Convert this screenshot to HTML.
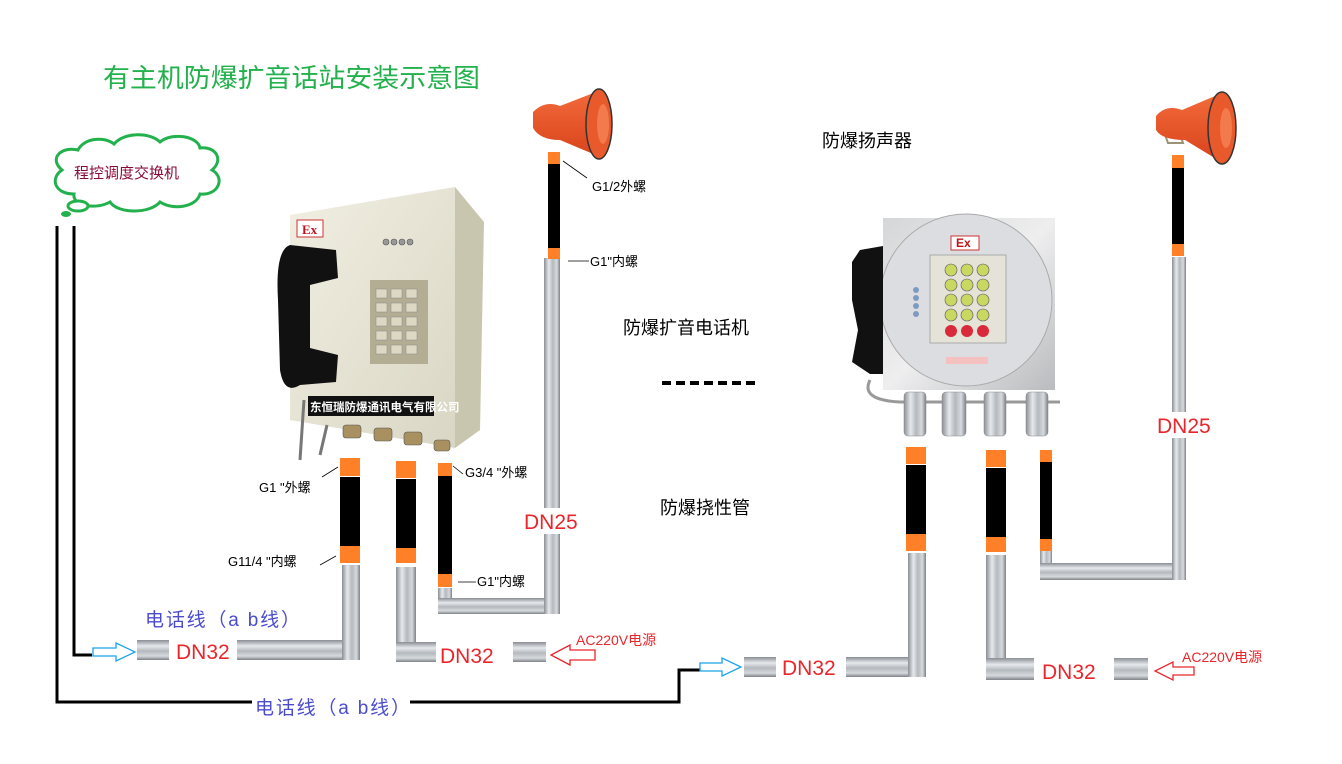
<!DOCTYPE html>
<html><head><meta charset="utf-8"><style>
html,body{margin:0;padding:0;background:#fff;}
svg{display:block;font-family:"Liberation Sans","Noto Sans CJK SC",sans-serif;}
</style></head><body>
<svg width="1342" height="764" viewBox="0 0 1342 764" xmlns="http://www.w3.org/2000/svg">
<defs>
<linearGradient id="pv" x1="0" y1="0" x2="1" y2="0">
<stop offset="0" stop-color="#8a8f95"/><stop offset="0.3" stop-color="#e6e9ec"/><stop offset="0.55" stop-color="#b4b9be"/><stop offset="0.8" stop-color="#d7dadd"/><stop offset="1" stop-color="#7d8288"/></linearGradient>
<linearGradient id="ph" x1="0" y1="0" x2="0" y2="1">
<stop offset="0" stop-color="#8a8f95"/><stop offset="0.3" stop-color="#e6e9ec"/><stop offset="0.55" stop-color="#b4b9be"/><stop offset="0.8" stop-color="#d7dadd"/><stop offset="1" stop-color="#7d8288"/></linearGradient>
<linearGradient id="beige" x1="0" y1="0" x2="1" y2="1">
<stop offset="0" stop-color="#f1efe2"/><stop offset="1" stop-color="#d9d6c4"/></linearGradient>
<linearGradient id="silver" x1="0" y1="0" x2="1" y2="1">
<stop offset="0" stop-color="#d5d6d8"/><stop offset="0.5" stop-color="#eeeeef"/><stop offset="1" stop-color="#b9bbbe"/></linearGradient>
<linearGradient id="horn" x1="0" y1="0" x2="0" y2="1">
<stop offset="0" stop-color="#f26a3a"/><stop offset="1" stop-color="#d9431c"/></linearGradient>
</defs>

<!-- title -->
<text x="103" y="87" font-size="26" fill="#22b14c" textLength="377" lengthAdjust="spacingAndGlyphs">有主机防爆扩音话站安装示意图</text>

<!-- cloud -->
<path d="M62,170 C48,158 62,146 78,150 C84,138 104,136 114,144 C124,132 150,132 160,142 C172,132 198,136 200,148 C216,146 224,160 212,170 C226,178 218,196 200,194 C196,208 172,210 160,202 C150,214 118,214 110,202 C96,210 72,206 74,194 C54,194 50,178 62,170 Z" fill="#fff" stroke="#22b14c" stroke-width="3"/>
<ellipse cx="78" cy="206" rx="10" ry="5" fill="#fff" stroke="#22b14c" stroke-width="3"/>
<ellipse cx="66" cy="214" rx="5" ry="3" fill="#22b14c"/>
<text x="74" y="178" font-size="15" fill="#8b0a3a">程控调度交换机</text>

<!-- wires -->
<polyline points="57,226 57,702 252,702" fill="none" stroke="#000" stroke-width="3"/>
<polyline points="410,702 679,702 679,670 700,670" fill="none" stroke="#000" stroke-width="3"/>
<polyline points="74,226 74,655 92,655" fill="none" stroke="#000" stroke-width="3"/>
<path d="M93,648 L116,648 L116,643 L135,652 L116,661 L116,656 L93,656 Z" fill="#fff" stroke="#1aa3e8" stroke-width="1.3"/>
<path d="M700,663 L722,663 L722,658 L741,667 L722,676 L722,671 L700,671 Z" fill="#fff" stroke="#1aa3e8" stroke-width="1.3"/>
<path d="M595,650 L570,650 L570,645 L551,655 L570,665 L570,660 L595,660 Z" fill="#fff" stroke="#e8262b" stroke-width="1.3"/>
<path d="M1194,667 L1173,667 L1173,662 L1155,671 L1173,680 L1173,675 L1194,675 Z" fill="#fff" stroke="#e8262b" stroke-width="1.3"/>

<text x="145" y="626" font-size="19" fill="#4b4bd0" textLength="155" lengthAdjust="spacing">电话线（a  b线）</text>
<text x="255" y="714" font-size="19" fill="#4b4bd0" textLength="155" lengthAdjust="spacing">电话线（a  b线）</text>
<text x="576" y="645" font-size="14" fill="#e8262b">AC220V电源</text>
<text x="1182" y="662" font-size="14" fill="#e8262b">AC220V电源</text>

<!-- LEFT pipes -->
<rect x="137" y="640" width="32" height="20" fill="url(#ph)"/>
<rect x="237" y="640" width="123" height="20" fill="url(#ph)"/>
<rect x="342" y="565" width="18" height="95" fill="url(#pv)"/>
<text x="176" y="659" font-size="21" fill="#e8262b">DN32</text>
<rect x="396" y="567" width="20" height="95" fill="url(#pv)"/>
<rect x="396" y="642" width="40" height="20" fill="url(#ph)"/>
<rect x="513" y="642" width="33" height="20" fill="url(#ph)"/>
<text x="440" y="663" font-size="21" fill="#e8262b">DN32</text>
<rect x="438" y="588" width="14" height="26" fill="url(#pv)"/>
<rect x="438" y="598" width="122" height="16" fill="url(#ph)"/>
<rect x="544" y="258" width="16" height="356" fill="url(#pv)"/>
<rect x="522" y="508" width="64" height="26" fill="#fff"/>
<text x="524" y="529" font-size="21" fill="#e8262b">DN25</text>

<rect x="340" y="458" width="20" height="18" fill="#ff8027"/><rect x="340" y="477" width="20" height="69" fill="#000"/><rect x="340" y="546" width="20" height="17" fill="#ff8027"/>
<rect x="396" y="461" width="20" height="17" fill="#ff8027"/><rect x="396" y="479" width="20" height="69" fill="#000"/><rect x="396" y="548" width="20" height="15" fill="#ff8027"/>
<rect x="438" y="463" width="14" height="13" fill="#ff8027"/><rect x="438" y="476" width="14" height="98" fill="#000"/><rect x="438" y="574" width="14" height="13" fill="#ff8027"/>
<rect x="548" y="152" width="12" height="12" fill="#ff8027"/><rect x="548" y="164" width="12" height="84" fill="#000"/><rect x="548" y="248" width="12" height="11" fill="#ff8027"/>

<line x1="322" y1="477" x2="338" y2="467" stroke="#000" stroke-width="0.8"/>
<text x="259" y="492" font-size="13">G1 "外螺</text>
<line x1="320" y1="565" x2="336" y2="556" stroke="#000" stroke-width="0.8"/>
<text x="228" y="566" font-size="13">G11/4 "内螺</text>
<line x1="453" y1="466" x2="463" y2="474" stroke="#000" stroke-width="0.8"/>
<text x="465" y="477" font-size="13">G3/4 "外螺</text>
<line x1="458" y1="582" x2="476" y2="582" stroke="#000" stroke-width="0.8"/>
<text x="477" y="586" font-size="13">G1"内螺</text>
<line x1="563" y1="161" x2="587" y2="178" stroke="#000" stroke-width="0.8"/>
<text x="592" y="191" font-size="13">G1/2外螺</text>
<line x1="568" y1="261" x2="589" y2="261" stroke="#000" stroke-width="0.8"/>
<text x="590" y="266" font-size="13">G1"内螺</text>

<!-- left horn -->
<g>
<path d="M538,123 L545,135 L560,135 L556,124" fill="none" stroke="#9a9475" stroke-width="2"/>
<path d="M533,112 Q545,100 560,106 L596,92 L598,156 L560,140 Q540,140 533,128 Z" fill="url(#horn)"/>
<ellipse cx="599" cy="124" rx="13" ry="35" fill="#e85a2c" stroke="#333" stroke-width="1.5"/>
<ellipse cx="603" cy="124" rx="6" ry="20" fill="#f27a4c"/>
</g>
<!-- right horn -->
<g>
<path d="M1162,126 L1168,143 L1183,143 L1180,134" fill="none" stroke="#9a9475" stroke-width="2"/>
<path d="M1156,116 Q1166,104 1182,110 L1215,96 L1218,160 L1185,140 Q1162,140 1156,130 Z" fill="url(#horn)"/>
<ellipse cx="1222" cy="128" rx="14" ry="36" fill="#e85a2c" stroke="#333" stroke-width="1.5"/>
<ellipse cx="1226" cy="128" rx="6" ry="20" fill="#f27a4c"/>
</g>

<!-- LEFT phone -->
<g>
<polygon points="455,187 484,222 480,430 455,448" fill="#c9c6b0"/>
<polygon points="290,215 455,187 455,448 290,420" fill="url(#beige)"/>
<rect x="297" y="220" width="26" height="17" fill="#fff" stroke="#c33" stroke-width="1"/>
<text x="302" y="234" font-size="13" font-family="Liberation Serif,serif" fill="#c0141c" font-weight="bold">Ex</text>
<rect x="370" y="280" width="58" height="84" fill="#b3ad94"/>
<g fill="#ddd8c4" stroke="#888" stroke-width="0.5">
<rect x="376" y="289" width="11" height="9"/><rect x="391" y="289" width="11" height="9"/><rect x="406" y="289" width="11" height="9"/>
<rect x="376" y="303" width="11" height="9"/><rect x="391" y="303" width="11" height="9"/><rect x="406" y="303" width="11" height="9"/>
<rect x="376" y="317" width="11" height="9"/><rect x="391" y="317" width="11" height="9"/><rect x="406" y="317" width="11" height="9"/>
<rect x="376" y="331" width="11" height="9"/><rect x="391" y="331" width="11" height="9"/><rect x="406" y="331" width="11" height="9"/>
<rect x="376" y="345" width="11" height="9"/><rect x="391" y="345" width="11" height="9"/><rect x="406" y="345" width="11" height="9"/>
</g>
<g fill="#999" stroke="#555" stroke-width="0.6"><circle cx="386" cy="242" r="3"/><circle cx="394" cy="242" r="3"/><circle cx="402" cy="242" r="3"/><circle cx="410" cy="242" r="3"/></g>
<path d="M290,245 Q275,250 278,300 L280,370 Q284,395 300,385 L336,382 L338,355 L310,348 L310,285 L338,278 L336,250 Z" fill="#111"/>
<rect x="308" y="396" width="126" height="20" fill="#111"/>
<text x="310" y="411" font-size="11.5" fill="#fff" font-weight="bold">东恒瑞防爆通讯电气有限公司</text>
<g fill="#a89060" stroke="#555" stroke-width="0.6">
<rect x="343" y="425" width="18" height="13" rx="3"/><rect x="374" y="428" width="18" height="13" rx="3"/><rect x="404" y="432" width="18" height="13" rx="3"/><rect x="434" y="440" width="16" height="11" rx="3"/></g>
<path d="M304,400 L300,460 M327,425 L320,455" stroke="#777" stroke-width="3" fill="none"/>
</g>

<text x="822" y="147" font-size="18" fill="#000">防爆扬声器</text>
<text x="623" y="334" font-size="18" fill="#000">防爆扩音电话机</text>
<line x1="662" y1="383" x2="760" y2="383" stroke="#000" stroke-width="4" stroke-dasharray="9,5"/>
<text x="660" y="514" font-size="18" fill="#000">防爆挠性管</text>

<!-- RIGHT phone -->
<g>
<rect x="883" y="218" width="172" height="172" fill="url(#silver)"/>
<circle cx="966" cy="300" r="86" fill="#dcdde0" stroke="#aaa" stroke-width="1"/>
<rect x="951" y="236" width="28" height="14" fill="#fff" stroke="#c33"/>
<text x="956" y="247" font-size="12" font-weight="bold" fill="#c0141c">Ex</text>
<rect x="930" y="255" width="76" height="88" fill="#e5e2d8" stroke="#aaa"/>
<g fill="#c8d860" stroke="#556" stroke-width="0.6">
<circle cx="951" cy="270" r="6"/><circle cx="967" cy="270" r="6"/><circle cx="983" cy="270" r="6"/>
<circle cx="951" cy="285" r="6"/><circle cx="967" cy="285" r="6"/><circle cx="983" cy="285" r="6"/>
<circle cx="951" cy="300" r="6"/><circle cx="967" cy="300" r="6"/><circle cx="983" cy="300" r="6"/>
<circle cx="951" cy="315" r="6"/><circle cx="967" cy="315" r="6"/><circle cx="983" cy="315" r="6"/></g>
<g fill="#d82a3a"><circle cx="951" cy="331" r="6"/><circle cx="967" cy="331" r="6"/><circle cx="983" cy="331" r="6"/></g>
<rect x="946" y="357" width="42" height="7" fill="#f4c0c0"/>
<path d="M883,246 L860,250 L852,262 L852,300 L858,330 L852,362 L870,374 L883,374 Z" fill="#111"/>
<g fill="#7f9ac0"><circle cx="916" cy="290" r="3"/><circle cx="916" cy="298" r="3"/><circle cx="916" cy="306" r="3"/><circle cx="916" cy="314" r="3"/></g>
<path d="M870,380 Q860,400 900,402 L1060,402" stroke="#999" stroke-width="3" fill="none"/>
<g fill="url(#pv)" stroke="#888" stroke-width="0.5">
<rect x="904" y="392" width="22" height="44" rx="4"/><rect x="942" y="392" width="24" height="44" rx="4"/><rect x="984" y="392" width="22" height="44" rx="4"/><rect x="1026" y="392" width="22" height="44" rx="4"/></g>
</g>

<!-- RIGHT pipes -->
<rect x="744" y="657" width="32" height="20" fill="url(#ph)"/>
<rect x="846" y="657" width="80" height="20" fill="url(#ph)"/>
<rect x="908" y="553" width="18" height="124" fill="url(#pv)"/>
<text x="782" y="675" font-size="21" fill="#e8262b">DN32</text>
<rect x="986" y="555" width="20" height="125" fill="url(#pv)"/>
<rect x="986" y="658" width="48" height="22" fill="url(#ph)"/>
<rect x="1114" y="658" width="34" height="22" fill="url(#ph)"/>
<text x="1042" y="679" font-size="21" fill="#e8262b">DN32</text>
<rect x="1040" y="551" width="12" height="29" fill="url(#pv)"/>
<rect x="1040" y="563" width="146" height="17" fill="url(#ph)"/>
<rect x="1172" y="257" width="14" height="323" fill="url(#pv)"/>
<rect x="1155" y="412" width="64" height="26" fill="#fff"/>
<text x="1157" y="433" font-size="21" fill="#e8262b">DN25</text>

<rect x="906" y="447" width="20" height="17" fill="#ff8027"/><rect x="906" y="465" width="20" height="69" fill="#000"/><rect x="906" y="534" width="20" height="17" fill="#ff8027"/>
<rect x="986" y="450" width="20" height="17" fill="#ff8027"/><rect x="986" y="468" width="20" height="69" fill="#000"/><rect x="986" y="537" width="20" height="15" fill="#ff8027"/>
<rect x="1040" y="450" width="12" height="12" fill="#ff8027"/><rect x="1040" y="462" width="12" height="77" fill="#000"/><rect x="1040" y="539" width="12" height="12" fill="#ff8027"/>
<rect x="1172" y="155" width="12" height="13" fill="#ff8027"/><rect x="1172" y="168" width="12" height="76" fill="#000"/><rect x="1172" y="244" width="12" height="12" fill="#ff8027"/>
</svg>
</body></html>
